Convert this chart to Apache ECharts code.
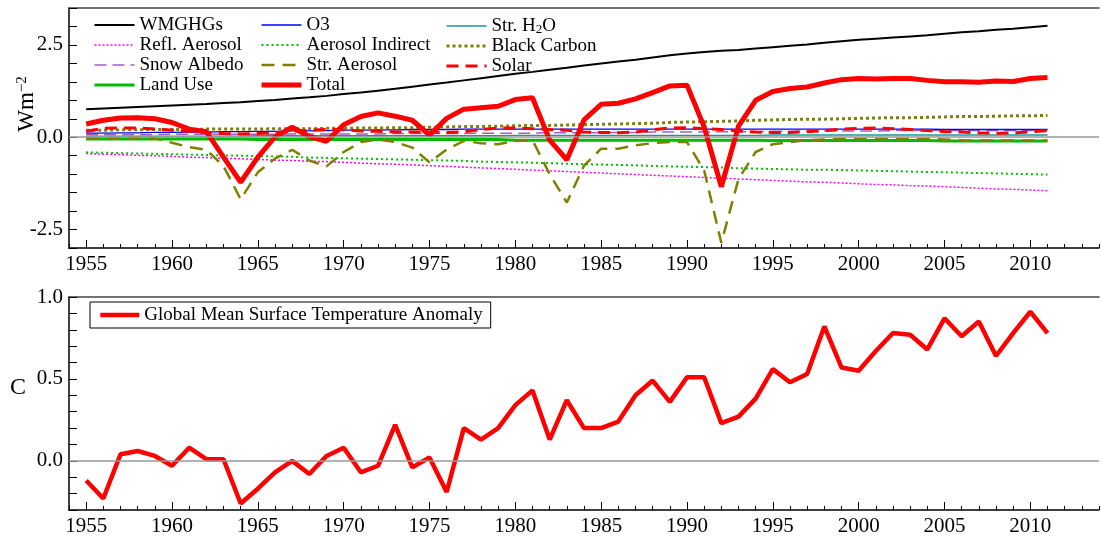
<!DOCTYPE html>
<html><head><meta charset="utf-8">
<script src="https://cdn.jsdelivr.net/npm/echarts@6/dist/echarts.min.js"></script>
<style>html,body{margin:0;padding:0;background:#fff}#c{width:1102px;height:537px}</style>
</head><body><div id="c"></div>
<script>
const years = Array.from({length: 57}, (_, i) => 1955 + i);
const tickYears = [1955,1960,1965,1970,1975,1980,1985,1990,1995,2000,2005,2010];
const topYLabels = [-2.5, 0, 2.5];
const botYLabels = [0, 0.5, 1.0];

const wmghgs = [0.76,0.78,0.80,0.82,0.84,0.86,0.88,0.90,0.93,0.95,
  0.98,1.01,1.05,1.08,1.12,1.17,1.21,1.26,1.31,1.37,
  1.43,1.48,1.54,1.60,1.66,1.72,1.77,1.83,1.88,1.94,
  2.00,2.05,2.10,2.16,2.22,2.27,2.31,2.34,2.36,2.40,
  2.44,2.48,2.51,2.56,2.60,2.64,2.67,2.70,2.73,2.76,
  2.80,2.84,2.87,2.91,2.94,2.98,3.02];
const o3 = [0.11,0.11,0.12,0.12,0.13,0.13,0.14,0.14,0.15,0.15,
  0.16,0.16,0.17,0.17,0.18,0.19,0.19,0.20,0.20,0.21,
  0.21,0.21,0.22,0.22,0.22,0.22,0.22,0.22,0.22,0.22,
  0.22,0.22,0.22,0.22,0.22,0.22,0.22,0.22,0.22,0.22,
  0.22,0.22,0.22,0.22,0.22,0.22,0.22,0.22,0.22,0.22,
  0.21,0.21,0.21,0.21,0.21,0.21,0.21];
const strH2O = [0.03,0.03,0.03,0.03,0.03,0.03,0.03,0.03,0.03,0.03,
  0.04,0.04,0.04,0.04,0.04,0.04,0.04,0.04,0.04,0.04,
  0.04,0.04,0.04,0.04,0.04,0.05,0.05,0.05,0.05,0.05,
  0.05,0.05,0.05,0.05,0.05,0.05,0.05,0.05,0.05,0.05,
  0.06,0.06,0.06,0.06,0.06,0.06,0.06,0.06,0.06,0.06,
  0.06,0.06,0.06,0.06,0.06,0.06,0.06];
const reflAerosol = [-0.44,-0.46,-0.47,-0.49,-0.50,-0.52,-0.54,-0.55,-0.57,-0.58,
  -0.60,-0.62,-0.63,-0.65,-0.66,-0.68,-0.70,-0.72,-0.73,-0.75,
  -0.77,-0.79,-0.81,-0.83,-0.85,-0.87,-0.89,-0.91,-0.93,-0.95,
  -0.97,-0.99,-1.01,-1.03,-1.05,-1.07,-1.09,-1.11,-1.13,-1.15,
  -1.17,-1.19,-1.21,-1.22,-1.24,-1.26,-1.28,-1.29,-1.31,-1.32,
  -1.34,-1.36,-1.38,-1.40,-1.41,-1.43,-1.45];
const aerosolIndirect = [-0.41,-0.42,-0.43,-0.44,-0.45,-0.46,-0.47,-0.48,-0.49,-0.50,
  -0.51,-0.52,-0.53,-0.55,-0.56,-0.57,-0.58,-0.59,-0.60,-0.61,
  -0.62,-0.63,-0.64,-0.66,-0.67,-0.68,-0.69,-0.70,-0.72,-0.73,
  -0.74,-0.75,-0.76,-0.78,-0.79,-0.80,-0.81,-0.82,-0.84,-0.85,
  -0.86,-0.87,-0.88,-0.88,-0.89,-0.90,-0.91,-0.92,-0.93,-0.94,
  -0.95,-0.96,-0.97,-0.98,-0.99,-1.00,-1.01];
const blackCarbon = [0.19,0.19,0.20,0.20,0.21,0.21,0.21,0.22,0.22,0.22,
  0.22,0.23,0.23,0.23,0.24,0.24,0.25,0.25,0.26,0.26,
  0.27,0.28,0.29,0.29,0.30,0.31,0.32,0.32,0.33,0.34,
  0.35,0.36,0.37,0.38,0.40,0.41,0.42,0.43,0.44,0.46,
  0.47,0.48,0.49,0.49,0.50,0.51,0.52,0.53,0.53,0.54,
  0.55,0.56,0.56,0.57,0.58,0.58,0.59];
const snowAlbedo = [0.07,0.07,0.07,0.07,0.07,0.08,0.08,0.08,0.08,0.08,
  0.08,0.08,0.09,0.09,0.09,0.09,0.09,0.09,0.10,0.10,
  0.10,0.10,0.10,0.11,0.11,0.11,0.11,0.12,0.12,0.12,
  0.13,0.13,0.13,0.14,0.14,0.14,0.14,0.15,0.15,0.15,
  0.16,0.16,0.16,0.17,0.17,0.17,0.17,0.18,0.18,0.18,
  0.18,0.18,0.18,0.18,0.18,0.18,0.18];
const strAerosol = [-0.03,-0.03,-0.02,-0.01,-0.02,-0.15,-0.27,-0.34,-0.78,-1.68,
  -0.95,-0.58,-0.34,-0.63,-0.79,-0.40,-0.13,-0.06,-0.13,-0.28,
  -0.68,-0.33,-0.10,-0.16,-0.19,-0.10,-0.08,-1.00,-1.77,-0.77,
  -0.31,-0.31,-0.22,-0.16,-0.13,-0.13,-0.90,-2.86,-1.13,-0.40,
  -0.19,-0.13,-0.08,-0.06,-0.05,-0.05,-0.05,-0.05,-0.05,-0.05,
  -0.06,-0.08,-0.09,-0.09,-0.09,-0.09,-0.09];
const solar = [0.16,0.24,0.25,0.25,0.22,0.19,0.16,0.13,0.10,0.09,
  0.10,0.12,0.16,0.19,0.21,0.20,0.17,0.16,0.14,0.14,
  0.14,0.13,0.15,0.21,0.25,0.25,0.23,0.21,0.19,0.14,
  0.13,0.12,0.14,0.20,0.25,0.26,0.23,0.21,0.17,0.14,
  0.13,0.13,0.15,0.18,0.22,0.24,0.25,0.23,0.21,0.18,
  0.15,0.14,0.12,0.11,0.12,0.15,0.18];
const landUse = [-0.05,-0.05,-0.05,-0.05,-0.05,-0.05,-0.05,-0.05,-0.05,-0.05,
  -0.06,-0.06,-0.06,-0.06,-0.06,-0.06,-0.06,-0.06,-0.06,-0.06,
  -0.06,-0.06,-0.06,-0.06,-0.06,-0.08,-0.08,-0.08,-0.08,-0.08,
  -0.08,-0.08,-0.08,-0.08,-0.08,-0.08,-0.08,-0.08,-0.08,-0.08,
  -0.09,-0.09,-0.09,-0.09,-0.09,-0.09,-0.09,-0.09,-0.09,-0.09,
  -0.10,-0.10,-0.10,-0.10,-0.10,-0.10,-0.10];
const total = [0.36,0.46,0.52,0.53,0.50,0.40,0.22,0.15,-0.54,-1.22,
  -0.54,0.01,0.27,0.02,-0.11,0.34,0.56,0.66,0.57,0.46,
  0.06,0.51,0.76,0.80,0.84,1.02,1.07,-0.08,-0.61,0.47,
  0.89,0.92,1.04,1.21,1.39,1.41,0.28,-1.34,0.30,1.00,
  1.24,1.32,1.36,1.47,1.56,1.59,1.58,1.59,1.59,1.54,
  1.50,1.50,1.49,1.52,1.51,1.59,1.62];
const tempAnomaly = [-0.12,-0.23,0.04,0.06,0.03,-0.03,0.08,0.01,0.01,-0.26,
  -0.17,-0.07,0.00,-0.08,0.03,0.08,-0.07,-0.03,0.22,-0.04,
  0.02,-0.19,0.20,0.13,0.20,0.34,0.43,0.13,0.37,0.20,
  0.20,0.24,0.40,0.49,0.36,0.51,0.51,0.23,0.27,0.38,
  0.56,0.48,0.53,0.82,0.57,0.55,0.67,0.78,0.77,0.68,
  0.87,0.76,0.85,0.64,0.78,0.91,0.78];

const FONT = 'Liberation Serif';
const pairs = arr => years.map((y, i) => [y, arr[i]]);

function xAxes(grid) {
  const base = {gridIndex: grid, type: 'value', min: 1954, max: 2014, splitLine: {show: false}};
  return [
    Object.assign({}, base, {position: 'bottom', interval: 1,
      axisLine: {show: true, onZero: false, lineStyle: {color: '#000', width: 1.5}},
      axisTick: {show: true, inside: true, length: 4, lineStyle: {color: '#000', width: 1}},
      axisLabel: {show: false}}),
    Object.assign({}, base, {position: 'bottom', interval: 1,
      axisLine: {show: false, onZero: false},
      axisTick: {show: true, inside: true, length: 8, customValues: tickYears, lineStyle: {color: '#000', width: 1}},
      axisLabel: {show: true, margin: 6, color: '#000', fontFamily: FONT, fontSize: 21,
        formatter: v => (tickYears.indexOf(v) >= 0 ? String(v) : '')}}),
    Object.assign({}, base, {position: 'top',
      axisLine: {show: true, onZero: false, lineStyle: {color: '#444', width: 1.5}},
      axisTick: {show: false}, axisLabel: {show: false}})
  ];
}

function yAxis(grid, min, max, interval, labels) {
  return {gridIndex: grid, type: 'value', min: min, max: max, interval: interval,
    axisLine: {show: true, onZero: false, lineStyle: {color: '#000', width: 1.5}},
    axisTick: {show: true, inside: true, length: 8, lineStyle: {color: '#000', width: 1}},
    splitLine: {show: false},
    axisLabel: {show: true, margin: 6, color: '#000', fontFamily: FONT, fontSize: 21,
      formatter: v => (labels.some(l => Math.abs(l - v) < 1e-6) ? v.toFixed(1) : '')}};
}

function line(name, data, color, width, type, extra) {
  return Object.assign({name: name, type: 'line', xAxisIndex: 0, yAxisIndex: 0,
    data: pairs(data), symbol: 'none', showSymbol: false, animation: false,
    lineStyle: {color: color, width: width, type: type, cap: 'butt'},
    itemStyle: {color: color}}, extra || {});
}

const zeroLine = {silent: true, symbol: ['none', 'none'], label: {show: false},
  lineStyle: {color: '#999', width: 1.5, type: 'solid'}, data: [{yAxis: 0}], animation: false};

const series = [
  line('Str. H2O', strH2O, '#159a9a', 1.3, 'solid', {markLine: zeroLine}),
  line('Refl. Aerosol', reflAerosol, '#ff00ff', 1.5, [2, 2]),
  line('Aerosol Indirect', aerosolIndirect, '#00c000', 2, [2, 3]),
  line('Land Use', landUse, '#00bb00', 3, 'solid'),
  line('Snow Albedo', snowAlbedo, '#a060c0', 1.5, [12, 6]),
  line('O3', o3, '#0000ff', 1.3, 'solid'),
  line('Black Carbon', blackCarbon, '#808000', 3, [3, 3]),
  line('Str. Aerosol', strAerosol, '#808000', 2.5, [13, 8]),
  line('Solar', solar, '#ff0000', 3, [12, 7]),
  line('WMGHGs', wmghgs, '#000000', 2, 'solid'),
  line('Total', total, '#ff0000', 5, 'solid'),
  line('Global Mean Surface Temperature Anomaly', tempAnomaly, '#ff0000', 4.5, 'solid',
    {xAxisIndex: 3, yAxisIndex: 1, markLine: zeroLine})
];

const legendText = {color: '#000', fontFamily: FONT, fontSize: 19, lineHeight: 20,
  rich: {sub: {fontFamily: FONT, fontSize: 13, lineHeight: 12, verticalAlign: 'bottom', padding: [8, 0, 0, 0]}}};
function legend(left, top, names, extra) {
  return Object.assign({orient: 'vertical', left: left, top: top, padding: 0, itemGap: 0,
    itemWidth: 40, itemHeight: 12, data: names, selectedMode: false,
    itemStyle: {opacity: 0},
    lineStyle: {width: 'inherit'},
    textStyle: legendText,
    formatter: n => (n === 'Str. H2O' ? 'Str. H{sub|2}O' : n)}, extra || {});
}

const option = {
  backgroundColor: '#fff',
  animation: false,
  grid: [
    {left: 69, top: 8, width: 1040, height: 240},
    {left: 69, top: 297, width: 1040, height: 214}
  ],
  xAxis: xAxes(0).concat(xAxes(1)),
  yAxis: [yAxis(0, -3, 3.5, 0.5, topYLabels), yAxis(1, -0.3, 1.0, 0.1, botYLabels)],
  legend: [
    legend(93, 15, ['WMGHGs', 'Refl. Aerosol', 'Snow Albedo', 'Land Use']),
    legend(259, 15, ['O3', 'Aerosol Indirect', 'Str. Aerosol', 'Total']),
    legend(445, 15, ['Str. H2O', 'Black Carbon', 'Solar']),
    legend(90, 302, ['Global Mean Surface Temperature Anomaly'],
      {itemWidth: 39, padding: [3, 8, 3, 8], borderColor: '#000', borderWidth: 1, backgroundColor: '#fff'})
  ],
  graphic: [
    {type: 'text', x: 27, y: 104, rotation: Math.PI / 2,
      style: {text: 'Wm{sup|−2}', fontFamily: FONT, fontSize: 23, fill: '#000',
        align: 'center', verticalAlign: 'middle',
        rich: {sup: {fontFamily: FONT, fontSize: 15, verticalAlign: 'top', padding: [0, 0, 10, 0]}}}},
    {type: 'text', x: 18, y: 388,
      style: {text: 'C', fontFamily: FONT, fontSize: 24, fill: '#000', align: 'center', verticalAlign: 'middle'}}
  ],
  series: series
};
const chart = echarts.init(document.getElementById('c'), null, {renderer: 'canvas'});
chart.setOption(option);
</script></body></html>
